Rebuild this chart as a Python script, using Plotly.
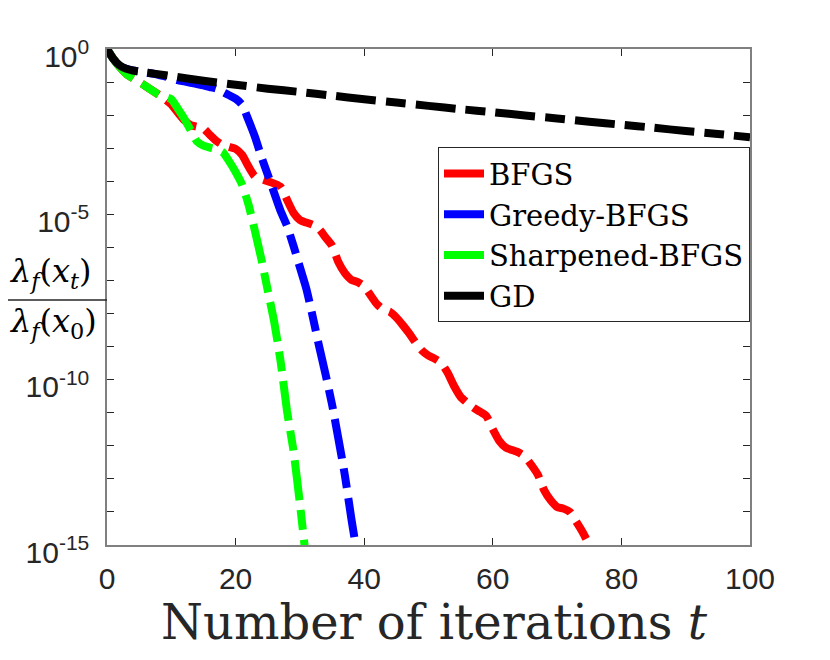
import numpy as np
import plotly.graph_objects as go

# decades below 1, i.e. -log10( lambda_f(x_t) / lambda_f(x_0) )
bfgs_iter = list(range(0, 77))
bfgs_dec = [0, 0.3, 0.55, 0.75, 0.88, 1.0, 1.12, 1.25, 1.38, 1.52,
            1.68, 1.92, 2.15, 2.3, 2.35, 2.4, 2.6, 2.78, 2.9, 2.96,
            3.02, 3.2, 3.55, 3.85, 3.93, 4.0, 4.07, 4.17, 4.56, 4.95,
            5.17, 5.25, 5.32, 5.45, 5.7, 5.95, 6.45, 6.78, 6.98, 7.05,
            7.18, 7.45, 7.72, 7.88, 7.95, 8.12, 8.35, 8.6, 8.88, 9.12,
            9.27, 9.37, 9.5, 9.8, 10.2, 10.52, 10.7, 10.85, 10.97, 11.1,
            11.5, 11.85, 12.05, 12.13, 12.2, 12.33, 12.58, 12.87, 13.35, 13.65,
            13.85, 13.9, 14.0, 14.3, 14.62, 15.0, 15.4]

greedy_iter = list(range(0, 40))
greedy_dec = [0, 0.3, 0.52, 0.6, 0.65, 0.68, 0.71, 0.74, 0.78, 0.83,
              0.88, 0.94, 0.98, 1.02, 1.06, 1.1, 1.15, 1.2, 1.3, 1.4,
              1.5, 1.68, 2.15, 2.65, 3.25, 3.8, 4.35, 4.9, 5.35, 5.95,
              6.6, 7.25, 8.1, 9.0, 9.85, 10.75, 11.8, 12.9, 14.2, 15.4]

sharp_iter = list(range(0, 32))
sharp_dec = [0, 0.3, 0.55, 0.75, 0.88, 1.0, 1.12, 1.25, 1.37, 1.45,
             1.52, 1.8, 2.1, 2.45, 2.8, 2.92, 2.98, 3.03, 3.12, 3.4,
             3.72, 4.1, 4.7, 5.5, 6.35, 7.3, 8.25, 9.45, 10.95, 12.15,
             13.75, 15.5]

gd_iter = [0, 1, 2, 3, 4, 5, 10, 15, 20, 25, 30, 35, 40, 45, 50,
           55, 60, 65, 70, 75, 80, 85, 90, 95, 100]
gd_dec = [0, 0.3, 0.5, 0.6, 0.65, 0.68, 0.82, 0.96, 1.08, 1.2, 1.3, 1.41,
          1.52, 1.62, 1.72, 1.82, 1.91, 2.01, 2.1, 2.2, 2.29, 2.38, 2.48,
          2.57, 2.67]

x_ticks = [0, 20, 40, 60, 80, 100]
y_major = [0, 5, 10, 15]
y_minor = [k for k in range(16) if k not in y_major]

dash_dot = "40px,10px,20px,10px"
series = [
    ("BFGS", bfgs_iter, bfgs_dec, "#ff0000"),
    ("Greedy-BFGS", greedy_iter, greedy_dec, "#0000ff"),
    ("Sharpened-BFGS", sharp_iter, sharp_dec, "#00ff00"),
    ("GD", gd_iter, gd_dec, "#000000"),
]

fig = go.Figure()
for name, xs, dec, col in series:
    fig.add_trace(
        go.Scatter(x=xs,
                   y=10.0 ** (-np.array(dec)),
                   mode="lines",
                   name=name,
                   line=dict(color=col, width=8, dash=dash_dot,
                             shape="spline", smoothing=0.6))
    )

axis_font = dict(family="Liberation Sans, Arial, sans-serif", size=30, color="#262626")
serif_family = "DejaVu Serif, Liberation Serif, serif"

# page body has an 8px margin, so the figure is 8px smaller and shifted
fig.update_layout(
    width=822, height=652,
    margin=dict(l=99, r=80, t=41, b=115),
    paper_bgcolor="white", plot_bgcolor="white",
    showlegend=True,
    legend=dict(x=1, y=0.802, xanchor="right", yanchor="top",
                bgcolor="white", bordercolor="#262626", borderwidth=1,
                font=dict(family=serif_family, size=29, color="#000000"),
                itemwidth=40, tracegroupgap=0, entrywidth=310),
    xaxis=dict(range=[0, 100], tickvals=x_ticks,
               ticks="inside", ticklen=7, tickcolor="#262626",
               showline=True, linecolor="#808080", linewidth=1.5,
               mirror="ticks", showgrid=False, zeroline=False,
               tickfont=axis_font, ticklabelstandoff=6),
    yaxis=dict(type="log", range=[-15, 0],
               tickvals=[10.0 ** (-k) for k in y_major],
               ticktext=["10<sup>%s</sup>" % ("0" if k == 0 else "-%d" % k)
                         for k in y_major],
               minor=dict(tickvals=[10.0 ** (-k) for k in y_minor],
                          ticks="inside", ticklen=7, tickcolor="#262626"),
               ticks="inside", ticklen=7, tickcolor="#262626",
               showline=True, linecolor="#808080", linewidth=1.5,
               mirror="ticks", showgrid=False, zeroline=False,
               tickfont=axis_font, ticklabelstandoff=10, ticklabelshift=7),
)

serif = dict(family=serif_family, size=32, color="#000000")

# x label
fig.add_annotation(text="Number of iterations <i>t</i>", xref="paper", yref="paper",
                   x=0.51, y=-0.155, xanchor="center", yanchor="middle",
                   showarrow=False,
                   font=dict(family=serif_family, size=48, color="#262626"))

# y label as a fraction
fig.add_annotation(text="<i>λ</i><sub><i>f</i></sub>(<i>x</i><sub><i>t</i></sub>)",
                   xref="paper", yref="paper", x=-0.088, y=0.549,
                   xanchor="center", yanchor="middle", showarrow=False, font=serif)
fig.add_annotation(text="<i>λ</i><sub><i>f</i></sub>(<i>x</i><sub>0</sub>)",
                   xref="paper", yref="paper", x=-0.084, y=0.447,
                   xanchor="center", yanchor="middle", showarrow=False, font=serif)
fig.add_shape(type="line", xref="paper", yref="paper",
              x0=-0.1664, x1=0, y0=0.494, y1=0.494,
              line=dict(color="#262626", width=1.5))

fig.write_html("out.html")
